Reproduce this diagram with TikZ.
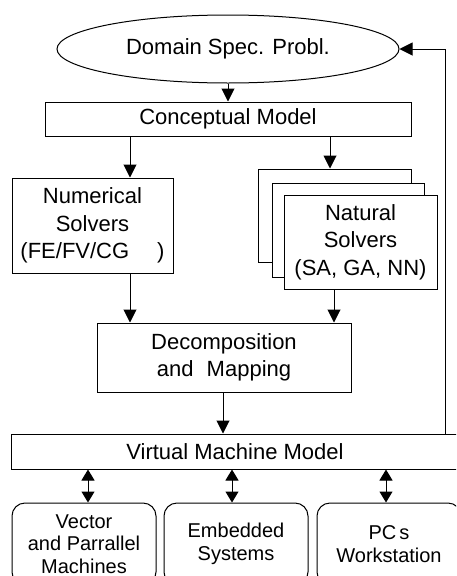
\documentclass[tikz,border=0pt]{standalone}
\usepackage{fontspec}
\setmainfont{Liberation Sans}
\usetikzlibrary{arrows.meta,shapes.geometric}
\begin{document}
\begin{tikzpicture}[x=1pt,y=-1pt,
  line width=1pt,
  box/.style={draw,fill=white,rectangle,inner sep=0pt,align=center,
    font=\fontsize{22}{27.5}\selectfont},
  hwbox/.style={draw,fill=white,rectangle,rounded corners=13pt,inner sep=0pt,
    align=center,minimum width=144pt,minimum height=82pt,
    font=\fontsize{20}{22.5}\selectfont},
  arr/.style={-{Triangle[length=13pt,width=13pt]}},
  dbl/.style={{Triangle[length=11pt,width=13pt]}-{Triangle[length=11pt,width=13pt]}}]
\useasboundingbox (0,0) rectangle (456,576);
\clip (0,0) rectangle (456,576);

% problem and model
\node[ellipse,draw,inner sep=0pt,minimum width=342pt,minimum height=68pt,
  font=\fontsize{22}{27.5}\selectfont] (dom) at (228,49) {Domain Spec. Probl.};
\node[box,minimum width=366pt,minimum height=34pt] (cm) at (228,119) {Conceptual Model};

% solvers
\node[box,minimum width=161pt,minimum height=95pt] (num) at (92.5,225.5)
  {Numerical\\Solvers\\(FE/FV/CG\hspace{28pt})};
\node[box,minimum width=153pt,minimum height=93pt] (nat3) at (334.5,215.5) {};
\node[box,minimum width=152pt,minimum height=94pt] (nat2) at (348,230) {};
\node[box,minimum width=153pt,minimum height=94pt] (nat) at (360.5,242)
  {Natural\\Solvers\\(SA, GA, NN)};

% mapping and machine model
\node[box,minimum width=254pt,minimum height=69pt] (dec) at (224,357.5)
  {Decomposition\\and\hspace{0.6em}Mapping};
\node[box,minimum width=459pt,minimum height=35pt] (vmm) at (240.5,451.5)
  {\hspace{-11pt}Virtual Machine Model};

% target hardware
\node[hwbox] (hw1) at (84,544) {Vector\\and Parrallel\\Machines};
\node[hwbox] (hw2) at (236,544) {Embedded\\Systems};
\node[hwbox] (hw3) at (389,544) {PC\hspace{3pt}s\\Workstation};

% column positions of the connectors
\coordinate (xl) at (130,0);
\coordinate (xr) at (330,0);
\coordinate (xf) at (334,0);
\coordinate (xm) at (223,0);
\coordinate (xfb) at (445,0);
\coordinate (x1) at (88,0);
\coordinate (x2) at (232,0);
\coordinate (x3) at (386,0);

\draw[arr] (dom.south) -- (cm.north);
\draw[arr] (cm.south -| xl) -- (num.north -| xl);
\draw[arr] (cm.south -| xr) -- (nat3.north -| xr);
\draw[arr] (num.south -| xl) -- (dec.north -| xl);
\draw[arr] (nat.south -| xf) -- (dec.north -| xf);
\draw[arr] (dec.south -| xm) -- (vmm.north -| xm);
\draw[arr] (vmm.north -| xfb) |- (dom.east);

\draw[dbl] (vmm.south -| x1) -- (hw1.north -| x1);
\draw[dbl] (vmm.south -| x2) -- (hw2.north -| x2);
\draw[dbl] (vmm.south -| x3) -- (hw3.north -| x3);
\end{tikzpicture}
\end{document}
